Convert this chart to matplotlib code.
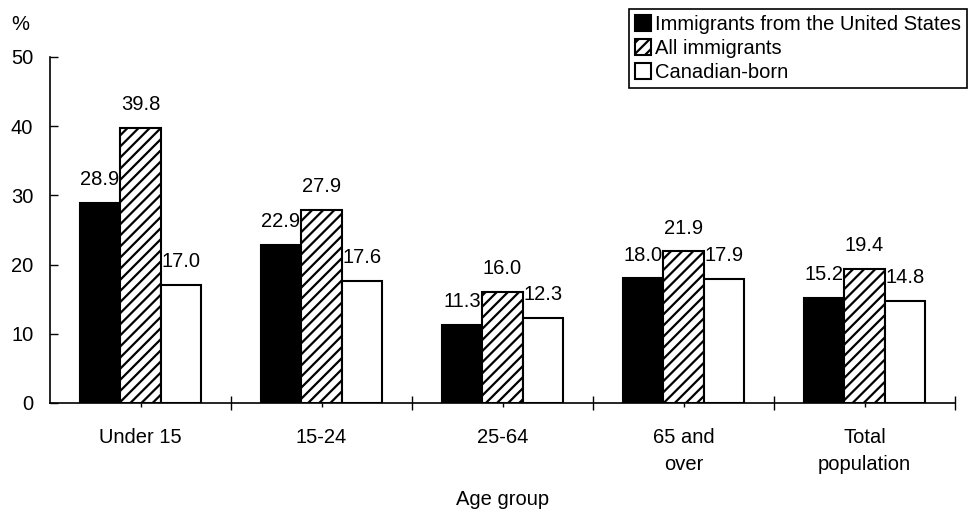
import numpy as np
import matplotlib.pyplot as plt
from matplotlib.ticker import FixedLocator, NullFormatter

plt.rcParams['font.family'] = ['Liberation Sans', 'DejaVu Sans']
plt.rcParams['hatch.linewidth'] = 1.6

age_groups = ['Under 15', '15-24', '25-64', '65 and\nover', 'Total\npopulation']
us_immigrants = [28.9, 22.9, 11.3, 18.0, 15.2]
all_immigrants = [39.8, 27.9, 16.0, 21.9, 19.4]
canadian_born = [17.0, 17.6, 12.3, 17.9, 14.8]
series_names = ['Immigrants from the United States', 'All immigrants', 'Canadian-born']

fs = 14.5
fig = plt.figure(figsize=(9.79, 5.15), dpi=100)
ax = fig.add_axes([50 / 979, 1 - 403 / 515, 905 / 979, 346 / 515])

x = np.arange(len(age_groups))
w = 0.224
styles = [dict(color='black', edgecolor='black'),
          dict(color='white', edgecolor='black', hatch='///'),
          dict(color='white', edgecolor='black')]
for i, (vals, name, st) in enumerate(zip([us_immigrants, all_immigrants, canadian_born],
                                         series_names, styles)):
    bars = ax.bar(x + (i - 1) * w, vals, w, linewidth=1.5, label=name, **st)
    for b, v in zip(bars, vals):
        ax.annotate(f'{v:.1f}', (b.get_x() + b.get_width() / 2, v),
                    xytext=(0, 10), textcoords='offset points',
                    ha='center', va='bottom', fontsize=fs)

ax.set_xlim(-0.5, 4.5)
ax.set_ylim(0, 50)
ax.set_yticks([0, 10, 20, 30, 40, 50])
ax.tick_params(axis='y', direction='in', length=6, width=1, labelsize=fs, pad=12)

ax.xaxis.set_major_locator(FixedLocator(np.arange(0.5, 5, 1)))
ax.xaxis.set_major_formatter(NullFormatter())
ax.xaxis.set_minor_locator(FixedLocator(x))
ax.set_xticklabels(age_groups, minor=True, fontsize=fs, va='top', linespacing=1.5)
ax.tick_params(axis='x', which='major', direction='inout', length=10, width=1)
ax.tick_params(axis='x', which='minor', direction='out', length=3, width=1, pad=15)

for s in ['top', 'right']:
    ax.spines[s].set_visible(False)
for s in ['left', 'bottom']:
    ax.spines[s].set_linewidth(1.2)

ax.set_xlabel('Age group', fontsize=fs, labelpad=12)
fig.text(20 / 979, 1 - 24 / 515, '%', fontsize=fs, ha='center', va='center')

leg = fig.legend(loc='upper right', bbox_to_anchor=(967 / 979, 1 - 9 / 515),
                 fontsize=fs, frameon=True, fancybox=False, framealpha=1,
                 handlelength=0.8, handleheight=0.8, handletextpad=0.2,
                 labelspacing=0.25, borderpad=0.3, borderaxespad=0)
leg.get_frame().set_edgecolor('black')
leg.get_frame().set_linewidth(1.2)

fig.savefig('out.png', dpi=100)
